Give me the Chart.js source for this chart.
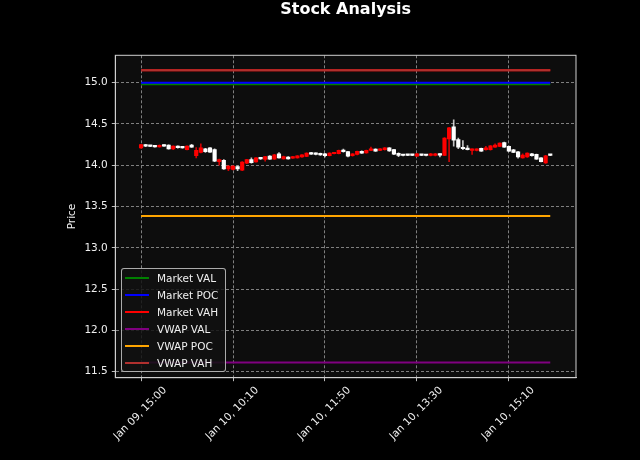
<!DOCTYPE html>
<html>
<head>
<meta charset="utf-8">
<script src="https://cdn.jsdelivr.net/npm/chart.js@4.4.1/dist/chart.umd.min.js"></script>
<style>
  html, body { margin: 0; padding: 0; background: #000; }
  #wrap { position: relative; width: 640px; height: 460px; }
  #legend {
    position: absolute; left: 121px; top: 268px; width: 105px; height: 104px;
    box-sizing: border-box; border: 1px solid rgba(210, 210, 210, 0.8); border-radius: 3px;
    background: rgba(18, 18, 18, 0.85);
    font: 10.5px "DejaVu Sans", sans-serif; color: #f0f0f0;
  }
  .row { position: absolute; left: 0; height: 17px; width: 100%; }
  .swatch { position: absolute; left: 3px; top: 7.5px; width: 24px; height: 2px; }
  .label { position: absolute; left: 35px; top: 0; line-height: 17px; white-space: nowrap; }
</style>
</head>
<body>
<div id="wrap">
  <canvas id="chart" width="640" height="460"></canvas>
  <div id="legend"></div>
</div>
<script>
// 5-minute candles, index 0 = Jan 09 15:00 (non-trading hours skipped).
const opens  = [14.21, 14.25, 14.235, 14.235, 14.222, 14.245, 14.244, 14.198, 14.232, 14.225,
                14.19, 14.244, 14.115, 14.156, 14.2, 14.21, 14.19, 14.045, 14.06, 13.955,
                13.95, 13.985, 13.94, 14.025, 14.07, 14.042, 14.09, 14.07, 14.112, 14.075,
                14.14, 14.078, 14.1, 14.085, 14.09, 14.1, 14.108, 14.155, 14.148, 14.145,
                14.14, 14.115, 14.14, 14.14, 14.185, 14.165, 14.115, 14.13, 14.17, 14.15,
                14.18, 14.195, 14.18, 14.188, 14.21, 14.19, 14.145, 14.13, 14.13, 14.128,
                14.11, 14.13, 14.128, 14.118, 14.118, 14.138, 14.12, 14.32, 14.465, 14.31,
                14.21, 14.205, 14.18, 14.18, 14.204, 14.188, 14.188, 14.22, 14.228, 14.276,
                14.228, 14.188, 14.164, 14.09, 14.1, 14.14, 14.132, 14.09, 14.027, 14.125];
const highs  = [14.255, 14.255, 14.24, 14.24, 14.248, 14.252, 14.248, 14.236, 14.236, 14.23,
                14.236, 14.255, 14.215, 14.26, 14.205, 14.215, 14.2, 14.075, 14.07, 13.995,
                13.995, 13.99, 14.045, 14.072, 14.09, 14.093, 14.094, 14.108, 14.116, 14.132,
                14.155, 14.11, 14.104, 14.108, 14.118, 14.128, 14.15, 14.158, 14.152, 14.148,
                14.144, 14.15, 14.158, 14.183, 14.195, 14.17, 14.143, 14.173, 14.174, 14.183,
                14.22, 14.2, 14.203, 14.215, 14.214, 14.194, 14.15, 14.134, 14.134, 14.132,
                14.144, 14.134, 14.132, 14.144, 14.144, 14.142, 14.335, 14.46, 14.55, 14.33,
                14.3, 14.24, 14.198, 14.198, 14.208, 14.228, 14.24, 14.26, 14.272, 14.282,
                14.232, 14.192, 14.168, 14.14, 14.152, 14.144, 14.136, 14.094, 14.12, 14.128];
const lows   = [14.205, 14.225, 14.225, 14.218, 14.218, 14.228, 14.194, 14.19, 14.208, 14.206,
                14.186, 14.216, 14.09, 14.15, 14.155, 14.155, 14.045, 14.0, 13.95, 13.935,
                13.945, 13.935, 13.935, 14.02, 14.025, 14.038, 14.072, 14.05, 14.07, 14.07,
                14.085, 14.074, 14.074, 14.082, 14.086, 14.096, 14.104, 14.13, 14.125, 14.12,
                14.1, 14.112, 14.136, 14.136, 14.16, 14.1, 14.11, 14.126, 14.144, 14.146,
                14.176, 14.168, 14.176, 14.184, 14.168, 14.128, 14.105, 14.114, 14.116, 14.116,
                14.106, 14.116, 14.114, 14.114, 14.114, 14.1, 14.115, 14.045, 14.23, 14.2,
                14.19, 14.186, 14.13, 14.175, 14.168, 14.184, 14.184, 14.216, 14.224, 14.216,
                14.168, 14.152, 14.085, 14.086, 14.096, 14.11, 14.07, 14.04, 14.023, 14.117];
const closes = [14.25, 14.23, 14.228, 14.222, 14.243, 14.232, 14.198, 14.232, 14.212, 14.21,
                14.232, 14.22, 14.18, 14.21, 14.165, 14.16, 14.05, 14.07, 13.955, 13.99,
                13.99, 13.955, 14.04, 14.068, 14.03, 14.09, 14.078, 14.105, 14.075, 14.127,
                14.09, 14.105, 14.078, 14.105, 14.115, 14.125, 14.148, 14.135, 14.132, 14.125,
                14.115, 14.148, 14.155, 14.18, 14.165, 14.11, 14.14, 14.17, 14.148, 14.18,
                14.195, 14.172, 14.2, 14.212, 14.175, 14.135, 14.12, 14.118, 14.12, 14.12,
                14.14, 14.12, 14.118, 14.14, 14.14, 14.122, 14.33, 14.455, 14.305, 14.22,
                14.2, 14.19, 14.195, 14.195, 14.172, 14.212, 14.236, 14.244, 14.268, 14.22,
                14.172, 14.156, 14.1, 14.124, 14.148, 14.115, 14.075, 14.043, 14.115, 14.12];

// Volume-profile levels drawn as horizontal lines across the session.
const levelNames  = ["Market VAL", "Market POC", "Market VAH", "VWAP VAL", "VWAP POC", "VWAP VAH"];
const levelValues = [14.98, 15.0, 15.15, 11.61, 13.385, 15.15];
const levelColors = ["#008000", "#0000ff", "#ff0000", "#800080", "#ffa500", "#b0302e"];

const tickPositions = [0, 20, 40, 60, 80];
const tickLabels = ["Jan 09, 15:00", "Jan 10, 10:10", "Jan 10, 11:50", "Jan 10, 13:30", "Jan 10, 15:10"];
const yTicks = [11.5, 12.0, 12.5, 13.0, 13.5, 14.0, 14.5, 15.0];

const UP = "#ff0000", DOWN = "#ffffff";
const FG = "#f0f0f0";
const FONT = { family: "DejaVu Sans", size: 10.5 };
const lastIndex = opens.length - 1;

const isUp = opens.map((o, i) => closes[i] >= o);
const bodyColors = isUp.map((u) => (u ? UP : DOWN));
const wickColors = isUp.map((u) => (u ? "rgba(255,0,0,0.8)" : "rgba(255,255,255,0.75)"));

// Paints the figure/axes backgrounds and the full box round the plot area.
const frame = {
  id: "frame",
  beforeDraw(chart) {
    const { ctx, chartArea: a } = chart;
    ctx.save();
    ctx.fillStyle = "#000";
    ctx.fillRect(0, 0, chart.width, chart.height);
    ctx.fillStyle = "#0d0d0d";
    ctx.fillRect(a.left, a.top, a.right - a.left, a.bottom - a.top);
    ctx.restore();
  },
  afterDraw(chart) {
    const { ctx, chartArea: a } = chart;
    ctx.save();
    ctx.strokeStyle = "#d0d0d0";
    ctx.lineWidth = 1;
    ctx.strokeRect(a.left, a.top, a.right - a.left, a.bottom - a.top);
    ctx.restore();
  },
};

// offset: false keeps grid lines on the ticks (bar charts default to between them)
const gridOpts = { offset: false, color: "#8c8c8c", lineWidth: 0.9, tickColor: "#d0d0d0", tickLength: 3.5 };
const borderOpts = { color: "#d0d0d0", width: 1, dash: [3, 2] };

new Chart(document.getElementById("chart"), {
  type: "bar",
  data: {
    datasets: [
      {
        label: "wicks",
        data: lows.map((l, i) => ({ x: i, y: [l, highs[i]] })),
        backgroundColor: wickColors,
        barThickness: 1,
        grouped: false,
        order: 20,
      },
      {
        label: "bodies",
        data: opens.map((o, i) => ({ x: i, y: [o, closes[i]] })),
        backgroundColor: bodyColors,
        barThickness: 3.5,
        minBarLength: 1.5,
        grouped: false,
        order: 10,
      },
      // later levels sit on top (lower order draws last)
      ...levelNames.map((name, k) => ({
        type: "line",
        label: name,
        data: [{ x: 0, y: levelValues[k] }, { x: lastIndex, y: levelValues[k] }],
        borderColor: levelColors[k],
        borderWidth: 2,
        pointRadius: 0,
        fill: false,
        order: 6 - k,
      })),
    ],
  },
  options: {
    responsive: false,
    animation: false,
    events: [],
    layout: { padding: { left: 0, right: 64, top: 0, bottom: 0 } },
    plugins: {
      legend: { display: false },
      tooltip: { enabled: false },
      title: {
        display: true,
        text: "Stock Analysis",
        color: "#ffffff",
        fullSize: false,
        font: { family: "DejaVu Sans", size: 16, weight: "bold" },
        padding: { top: 0, bottom: 36.1 },
      },
    },
    scales: {
      x: {
        type: "linear",
        min: -5.6,
        max: 94.6,
        offset: false,
        afterBuildTicks: (s) => { s.ticks = tickPositions.map((v) => ({ value: v })); },
        afterFit: (s) => { s.height = 82.3; },
        ticks: {
          autoSkip: false,
          minRotation: 45,
          maxRotation: 45,
          labelOffset: 24,
          padding: 3,
          color: FG,
          font: FONT,
          callback: (v) => tickLabels[tickPositions.indexOf(v)],
        },
        grid: gridOpts,
        border: borderOpts,
      },
      y: {
        type: "linear",
        min: 11.427,
        max: 15.332,
        afterBuildTicks: (s) => { s.ticks = yTicks.map((v) => ({ value: v })); },
        afterFit: (s) => { s.width = 115.3; },
        ticks: { color: FG, font: FONT, padding: 4, callback: (v) => v.toFixed(1) },
        grid: gridOpts,
        border: borderOpts,
        title: { display: true, text: "Price", color: FG, font: FONT, padding: { top: 66, bottom: 0 } },
      },
    },
  },
  plugins: [frame],
});

// HTML legend for the six level lines (candles are not listed).
const legend = document.getElementById("legend");
levelNames.forEach((name, k) => {
  const row = document.createElement("div");
  row.className = "row";
  row.style.top = 0.5 + 17 * k + "px";
  row.innerHTML = `<div class="swatch" style="background:${levelColors[k]}"></div><div class="label">${name}</div>`;
  legend.appendChild(row);
});
</script>
</body>
</html>
